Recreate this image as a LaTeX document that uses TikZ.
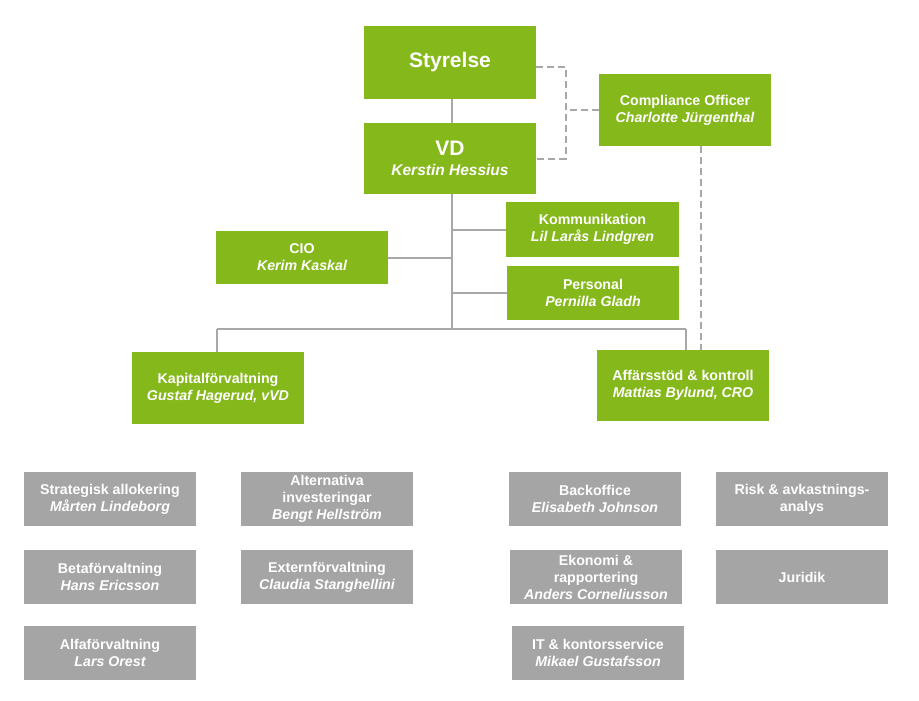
\documentclass[tikz,border=0pt]{standalone}
\usepackage{fontspec}
\setmainfont{Liberation Sans}
\definecolor{grn}{HTML}{85B81A}
\definecolor{gbox}{HTML}{A5A5A5}
\definecolor{lin}{HTML}{A8A8A8}
\begin{document}
\begin{tikzpicture}[x=1pt,y=-1pt,
  box/.style={minimum width=172pt, inner sep=0pt, align=center, text=white,
    font=\bfseries\fontsize{14.2}{17}\selectfont},
  gbx/.style={box, fill=grn},
  ybx/.style={box, fill=gbox, minimum height=54pt},
  conn/.style={draw=lin, line width=2pt},
  dsh/.style={draw=lin, line width=2pt, dash pattern=on 7pt off 4pt}]
\useasboundingbox[fill=white] (0,0) rectangle (919,701);
% green boxes
\node[gbx, minimum height=73pt, font=\bfseries\fontsize{21}{22}\selectfont] (sty) at (450,62.5) {\raisebox{-2pt}{Styrelse}};
\node[gbx, minimum height=71pt] (vd) at (450,158.5) {{\fontsize{21}{22}\selectfont VD}\\[3pt]{\fontsize{15.5}{17}\selectfont\itshape Kerstin Hessius}};
\node[gbx, minimum height=72pt] (comp) at (685,110) {Compliance Officer\\\itshape Charlotte Jürgenthal};
\node[gbx, minimum height=55pt, minimum width=173pt] (kom) at (592.5,229.5) {Kommunikation\\\itshape Lil Larås Lindgren};
\node[gbx, minimum height=54pt] (per) at (593,293) {Personal\\\itshape Pernilla Gladh};
\node[gbx, minimum height=53pt] (cio) at (302,257.5) {CIO\\\itshape Kerim Kaskal};
\node[gbx, minimum height=72pt] (kap) at (218,388) {Kapitalförvaltning\\\itshape Gustaf Hagerud, vVD};
\node[gbx, minimum height=71pt] (aff) at (683,385.5) {Affärsstöd \& kontroll\\\itshape Mattias Bylund, CRO};
% gray boxes
\node[ybx] (str) at (110,499) {Strategisk allokering\\\itshape Mårten Lindeborg};
\node[ybx] (alt) at (327,499) {Alternativa\\investeringar\\\itshape Bengt Hellström};
\node[ybx] (bet) at (110,577) {Betaförvaltning\\\itshape Hans Ericsson};
\node[ybx] (ext) at (327,577) {Externförvaltning\\\itshape Claudia Stanghellini};
\node[ybx] (alf) at (110,653) {Alfaförvaltning\\\itshape Lars Orest};
\node[ybx] (bac) at (595,499) {Backoffice\\\itshape Elisabeth Johnson};
\node[ybx] (ris) at (802,499) {Risk \& avkastnings-\\analys};
\node[ybx] (eko) at (596,577) {Ekonomi \&\\rapportering\\\itshape Anders Corneliusson};
\node[ybx] (jur) at (802,577) {Juridik};
\node[ybx] (it) at (598,653) {IT \& kontorsservice\\\itshape Mikael Gustafsson};
% solid connectors
\coordinate (trB) at (452,329);
\coordinate (busL) at (217,329);
\coordinate (busR) at (686,329);
\draw[conn] (sty.south -| trB) -- (vd.north -| trB);
\draw[conn] (vd.south -| trB) -- (trB);
\draw[conn] (busL) -- (busR);
\draw[conn] (busL) -- (busL |- kap.north);
\draw[conn] (busR) -- (busR |- aff.north);
\draw[conn] (kom.west) -- (kom.west -| trB);
\draw[conn] (per.west) -- (per.west -| trB);
\draw[conn] (cio.east) -- (cio.east -| trB);
% dashed connectors
\coordinate (dv) at (566,0);
\draw[dsh] ([yshift=-4.5pt]sty.east) -| (dv |- vd.east) -- (vd.east);
\draw[dsh] (comp.west) -- (comp.west -| dv);
\draw[dsh] ([xshift=16pt]comp.south) -- ([xshift=16pt]comp.south |- aff.north);
\end{tikzpicture}
\end{document}
